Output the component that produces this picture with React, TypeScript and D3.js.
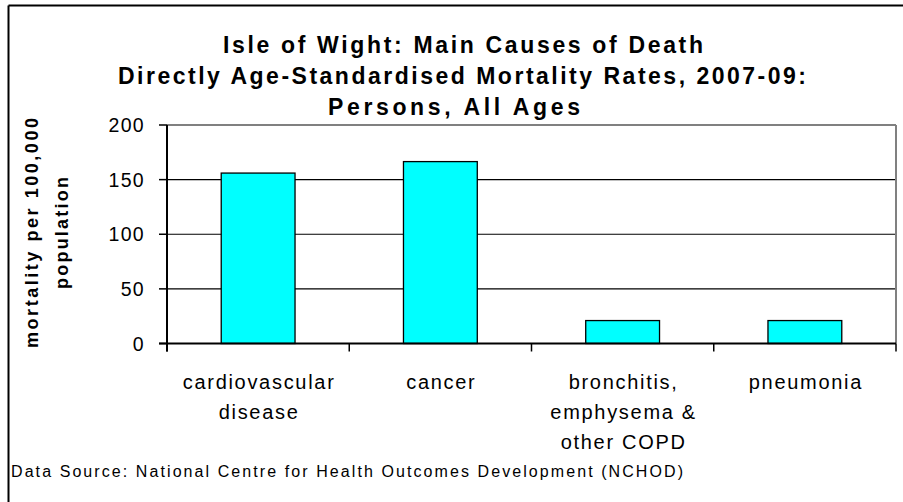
import React from "react";
import * as d3 from "d3";

const categories: string[][] = [
  ["cardiovascular", "disease"],
  ["cancer"],
  ["bronchitis,", "emphysema &", "other COPD"],
  ["pneumonia"],
];
const values: number[] = [156, 166.5, 21, 21];
const yTicks: number[] = [0, 50, 100, 150, 200];
const titleLines: string[] = [
  "Isle of Wight: Main Causes of Death",
  "Directly Age-Standardised Mortality Rates, 2007-09:",
  "Persons, All Ages",
];
const titleWidths: number[] = [480, 688, 252];
const titleCenters: number[] = [463, 462, 454];
const yLabelLines: string[] = ["mortality per 100,000", "population"];
const yLabelWidths: number[] = [230, 112];
const sourceText = "Data Source: National Centre for Health Outcomes Development (NCHOD)";

const W = 903;
const H = 502;
const left = 167;
const right = 896;
const top = 125;
const bottom = 343.5;
const font = "Arial, 'Liberation Sans', sans-serif";

export default function App() {
  const x = d3
    .scaleBand<number>()
    .domain(d3.range(categories.length))
    .range([left, right])
    .paddingInner(0.595)
    .paddingOuter(0.2975);
  const band = (right - left) / categories.length;
  const y = d3.scaleLinear().domain([0, 200]).range([bottom, top]);

  return (
    <svg
      width={W}
      height={H}
      style={{ position: "absolute", left: 0, top: 0, background: "#fff" }}
    >
      <rect x={0} y={0} width={W} height={H} fill="#fff" />
      {/* outer border (left & top) */}
      <line x1={8.5} y1={5.5} x2={8.5} y2={H} stroke="#000" strokeWidth={2} />
      <line x1={8.5} y1={5.5} x2={W} y2={5.5} stroke="#000" strokeWidth={2} />

      {/* title */}
      {titleLines.map((t, i) => (
        <text
          key={i}
          x={titleCenters[i] - titleWidths[i] / 2}
          y={52.5 + i * 31}
          textLength={titleWidths[i]}
          lengthAdjust="spacing"
          fontFamily={font}
          fontWeight="bold"
          fontSize={23}
          fill="#000"
        >
          {t}
        </text>
      ))}

      {/* gridlines */}
      {yTicks
        .filter((t) => t > 0 && t < 200)
        .map((t) => (
          <line
            key={t}
            x1={left}
            x2={right}
            y1={y(t)}
            y2={y(t)}
            stroke="#000"
            strokeWidth={1.2}
          />
        ))}
      {/* plot area top/right border */}
      <line x1={left} x2={right} y1={top} y2={top} stroke="#808080" strokeWidth={2} />
      <line x1={right} x2={right} y1={top} y2={bottom} stroke="#808080" strokeWidth={2} />

      {/* bars */}
      {values.map((v, i) => (
        <rect
          key={i}
          x={x(i)}
          y={y(v)}
          width={x.bandwidth()}
          height={y(0) - y(v)}
          fill="#00FFFF"
          stroke="#000"
          strokeWidth={1.3}
        />
      ))}

      {/* y axis */}
      <line x1={left} x2={left} y1={top} y2={bottom + 8} stroke="#000" strokeWidth={2} />
      {yTicks.map((t) => (
        <g key={t}>
          <line x1={left - 8} x2={left} y1={y(t)} y2={y(t)} stroke="#000" strokeWidth={1.5} />
          <text
            x={145}
            y={y(t)}
            dy="0.36em"
            textAnchor="end"
            fontFamily={font}
            fontSize={19.5}
            letterSpacing={1.3}
            fill="#000"
          >
            {t}
          </text>
        </g>
      ))}

      {/* x axis */}
      <line x1={left - 8} x2={right} y1={bottom} y2={bottom} stroke="#000" strokeWidth={2} />
      {d3.range(categories.length + 1).map((i) => (
        <line
          key={i}
          x1={left + i * band}
          x2={left + i * band}
          y1={bottom}
          y2={bottom + 8}
          stroke="#000"
          strokeWidth={1.5}
        />
      ))}
      {categories.map((lines, i) => (
        <text
          key={i}
          textAnchor="middle"
          fontFamily={font}
          fontSize={20}
          letterSpacing={1.7}
          fill="#000"
        >
          {lines.map((l, j) => (
            <tspan key={j} x={(x(i) as number) + x.bandwidth() / 2 + 1} y={388.5 + j * 30}>
              {l}
            </tspan>
          ))}
        </text>
      ))}

      {/* y label */}
      {yLabelLines.map((l, j) => (
        <text
          key={j}
          transform={`translate(${38 + j * 30}, ${233 + yLabelWidths[j] / 2}) rotate(-90)`}
          textLength={yLabelWidths[j]}
          lengthAdjust="spacing"
          fontFamily={font}
          fontWeight="bold"
          fontSize={18}
          fill="#000"
        >
          {l}
        </text>
      ))}

      {/* source */}
      <text
        x={11}
        y={477}
        textLength={672}
        lengthAdjust="spacing"
        fontFamily={font}
        fontSize={16}
        fill="#000"
      >
        {sourceText}
      </text>
    </svg>
  );
}
